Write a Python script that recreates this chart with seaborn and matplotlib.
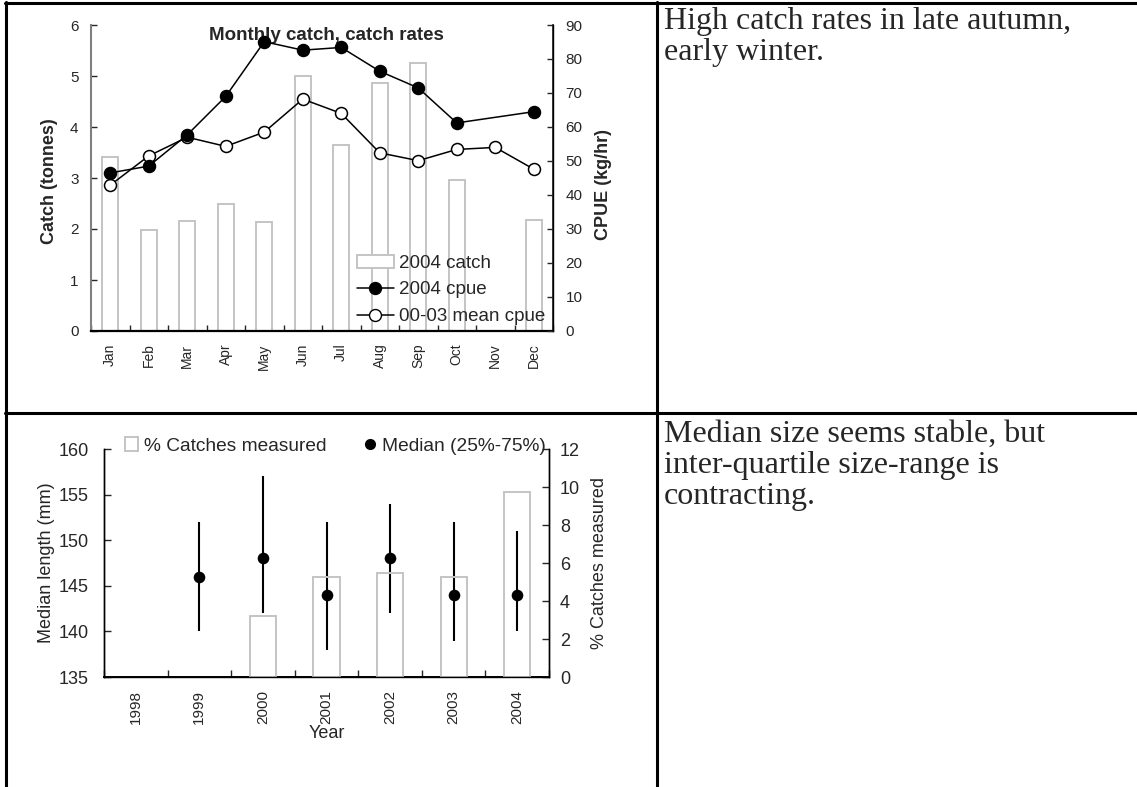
import numpy as np
import pandas as pd
import matplotlib
matplotlib.use("Agg")
import matplotlib.pyplot as plt
from matplotlib.lines import Line2D
from matplotlib.patches import Patch
from matplotlib.ticker import FixedLocator
import seaborn as sns

# monthly catch / catch rates (top panel)
months = ['Jan', 'Feb', 'Mar', 'Apr', 'May', 'Jun', 'Jul', 'Aug', 'Sep', 'Oct', 'Nov', 'Dec']
catch_2004 = [3.41, 1.98, 2.16, 2.49, 2.13, 5.00, 3.65, 4.87, 5.26, 2.96, np.nan, 2.18]
cpue_2004 = [46.5, 48.5, 57.7, 69.0, 85.1, 82.6, 83.4, 76.4, 71.5, 61.2, np.nan, 64.5]
cpue_0003 = [42.9, 51.5, 57.0, 54.3, 58.5, 68.2, 64.0, 52.4, 50.1, 53.4, 54.0, 47.6]

# size data (bottom panel)
years = ['1998', '1999', '2000', '2001', '2002', '2003', '2004']
median_len = [np.nan, 146, 148, 144, 148, 144, 144]
q25_len = [np.nan, 140, 142, 138, 142, 139, 140]
q75_len = [np.nan, 152, 157, 152, 154, 152, 151]
pct_measured = [np.nan, np.nan, 3.23, 5.28, 5.46, 5.25, 9.72]

sns.set_theme(style="white")
plt.rcParams['font.family'] = ['Liberation Sans', 'DejaVu Sans']

W, H = 1137, 787
fig = plt.figure(figsize=(W / 100, H / 100), dpi=100)


def box(l, t, r, b):
    # pixel box -> figure fraction rect
    return [l / W, 1 - b / H, (r - l) / W, (b - t) / H]


bar_col = '#c4c4c4'

# ---------------- top panel ----------------
ax = fig.add_axes(box(91, 25, 553, 331))
df_c = pd.DataFrame({'month': months, 'catch': catch_2004}).dropna()
sns.barplot(data=df_c, x='month', y='catch', order=months, ax=ax, width=0.42,
            fill=False, color=bar_col, linewidth=1.4)
ax.set_ylim(0, 6)
ax.set_xlim(-0.5, 11.5)

ax2 = ax.twinx()
pos = np.arange(len(months))
df_a = pd.DataFrame({'x': pos, 'cpue': cpue_2004}).dropna()
df_b = pd.DataFrame({'x': pos, 'cpue': cpue_0003})
sns.lineplot(data=df_b, x='x', y='cpue', ax=ax2, color='black', linewidth=1.1,
             marker='o', markersize=8.6, markerfacecolor='white',
             markeredgecolor='black', markeredgewidth=1.1, sort=False, estimator=None)
sns.lineplot(data=df_a, x='x', y='cpue', ax=ax2, color='black', linewidth=1.1,
             marker='o', markersize=8.6, markerfacecolor='black',
             markeredgecolor='black', markeredgewidth=1.1, sort=False, estimator=None)
ax2.set_ylim(0, 90)
ax2.set_xlim(-0.5, 11.5)

ax.set_xlabel('')
ax2.set_xlabel('')
ax.set_ylabel('Catch (tonnes)', fontsize=13, fontweight='bold')
ax2.set_ylabel('CPUE (kg/hr)', fontsize=13, fontweight='bold')
ax.yaxis.set_label_coords(-0.071, 0.49)
ax2.yaxis.set_label_coords(1.09, 0.48)

ax.set_yticks(range(0, 7))
ax2.set_yticks(range(0, 91, 10))
ax.tick_params(axis='y', direction='in', length=4, width=1, pad=9, labelsize=11, left=True)
ax2.tick_params(axis='y', direction='in', length=4, width=1, pad=9, labelsize=11, right=True)
ax.set_xticks(pos)
ax.set_xticklabels(months, rotation=90, fontsize=10)
ax.xaxis.set_minor_locator(FixedLocator(np.arange(-0.5, 12, 1)))
ax.tick_params(axis='x', which='major', length=0, pad=9)
ax.tick_params(axis='x', which='minor', direction='in', length=4, width=1, bottom=True)

for a in (ax, ax2):
    a.spines['top'].set_visible(False)
    a.grid(False)
ax.spines['left'].set_color('#7f7f7f')
ax.spines['left'].set_linewidth(1.5)
ax.spines['bottom'].set_color('black')
ax.spines['bottom'].set_linewidth(1.6)
ax2.spines['right'].set_color('black')
ax2.spines['right'].set_linewidth(1.0)
ax2.spines['left'].set_visible(False)
ax2.spines['bottom'].set_visible(False)

ax.text(0.51, 0.965, 'Monthly catch, catch rates', transform=ax.transAxes,
        ha='center', va='center', fontsize=13.5, fontweight='bold', zorder=0)

h_top = [Patch(facecolor='white', edgecolor=bar_col, linewidth=1.4),
         Line2D([], [], color='black', lw=1.1, marker='o', markersize=8.6,
                markerfacecolor='black', markeredgecolor='black'),
         Line2D([], [], color='black', lw=1.1, marker='o', markersize=8.6,
                markerfacecolor='white', markeredgecolor='black')]
ax2.legend(h_top, ['2004 catch', '2004 cpue', '00-03 mean cpue'],
           loc='lower right', bbox_to_anchor=(0.995, 0.0), frameon=False,
           fontsize=13.5, handlelength=2.0, handleheight=0.7,
           handletextpad=0.25, labelspacing=0.52, borderpad=0, borderaxespad=0.3)

# ---------------- bottom panel ----------------
bx = fig.add_axes(box(104, 449, 549, 677))
bx2 = bx.twinx()
df_p = pd.DataFrame({'year': years, 'pct': pct_measured}).dropna()
sns.barplot(data=df_p, x='year', y='pct', order=years, ax=bx2, width=0.41,
            fill=False, color=bar_col, linewidth=1.4)
bx2.set_ylim(0, 12)
bx2.set_yticks(range(0, 13, 2))

ypos = np.arange(len(years))
df_m = pd.DataFrame({'x': ypos, 'med': median_len, 'lo': q25_len, 'hi': q75_len}).dropna()
bx.vlines(df_m['x'], df_m['lo'], df_m['hi'], color='black', linewidth=1.5)
sns.scatterplot(data=df_m, x='x', y='med', ax=bx, color='black', s=70,
                edgecolor='black', linewidth=0, zorder=3)
bx.set_ylim(135, 160)
bx.set_yticks(range(135, 161, 5))
bx.set_xlim(-0.5, 6.5)
bx2.set_xlim(-0.5, 6.5)

bx.set_xticks(ypos)
bx.set_xticklabels(years, rotation=90, fontsize=11)
bx.xaxis.set_minor_locator(FixedLocator(np.arange(-0.5, 7, 1)))
bx.tick_params(axis='x', which='major', length=0, pad=9)
bx.tick_params(axis='x', which='minor', direction='in', length=5, width=1, bottom=True)
bx.tick_params(axis='y', direction='in', length=5, width=1, pad=11, labelsize=13, left=True)
bx2.tick_params(axis='y', direction='in', length=5, width=1, pad=8, labelsize=13, right=True)
bx2.set_xlabel('')
bx.set_xlabel('Year', fontsize=13)
bx.xaxis.set_label_coords(0.501, -0.21)
bx.set_ylabel('Median length (mm)', fontsize=13)
bx2.set_ylabel('% Catches measured', fontsize=13)
bx.yaxis.set_label_coords(-0.11, 0.5)
bx2.yaxis.set_label_coords(1.094, 0.5)

for a in (bx, bx2):
    a.spines['top'].set_visible(False)
    a.grid(False)
    for s in ('left', 'right', 'bottom'):
        a.spines[s].set_color('black')
        a.spines[s].set_linewidth(1.0)
bx.spines['bottom'].set_linewidth(1.4)

h_bot = [Patch(facecolor='white', edgecolor=bar_col, linewidth=1.4),
         Line2D([], [], color='black', lw=0, marker='o', markersize=7)]
bx2.legend(h_bot, ['% Catches measured', 'Median (25%-75%)'], ncol=2,
           loc='center left', bbox_to_anchor=(0.047, 1.013), frameon=False,
           fontsize=13.8, handlelength=0.7, handleheight=0.7, handletextpad=0.3,
           columnspacing=1.9, borderpad=0, borderaxespad=0)

# ---------------- table frame and notes ----------------
def hline(y, x0, x1):
    fig.add_artist(Line2D([x0 / W, x1 / W], [1 - y / H, 1 - y / H], color='black', lw=2.2))


def vline(x, y0, y1):
    fig.add_artist(Line2D([x / W, x / W], [1 - y0 / H, 1 - y1 / H], color='black', lw=2.2))


hline(3, 5, W)
hline(413, 5, W)
vline(6, 2, H)
vline(657, 2, H)

fig.text(664 / W, 1 - 7 / H, 'High catch rates in late autumn,\nearly winter.',
         ha='left', va='top', fontsize=23, family='Liberation Serif', linespacing=1.1)
fig.text(664 / W, 1 - 420 / H, 'Median size seems stable, but\ninter-quartile size-range is\ncontracting.',
         ha='left', va='top', fontsize=23, family='Liberation Serif', linespacing=1.1)

plt.savefig('out.png', dpi=100)
